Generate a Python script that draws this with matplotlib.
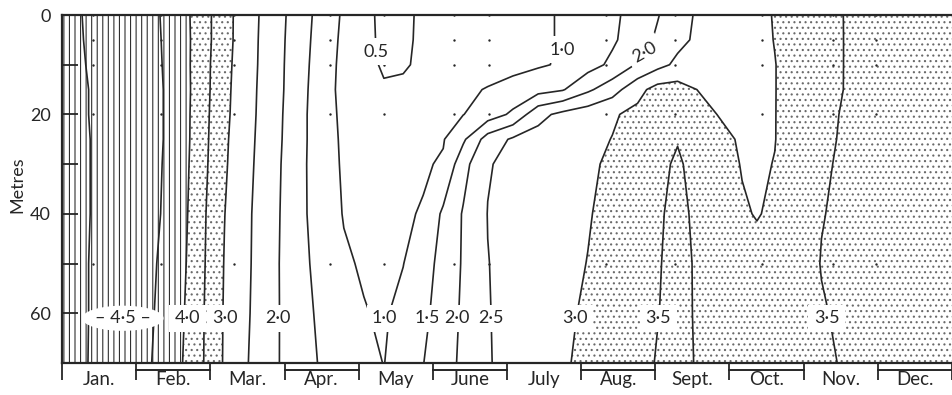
import matplotlib.pyplot as plt
import numpy as np
from matplotlib.transforms import blended_transform_factory

plt.rcParams['font.family'] = ['Lato', 'DejaVu Sans']
plt.rcParams['hatch.linewidth'] = 0.8

INK = '#262626'

# temperature section: time in months from 1 Jan, depth in metres
months = [0.00, 0.17, 0.44, 0.85, 1.18, 1.52, 1.85, 2.19, 2.52, 2.86,
          3.19, 3.53, 3.80, 4.07, 4.34, 4.60, 4.87, 5.14, 5.41, 5.74,
          6.08, 6.42, 6.75, 7.09, 7.42, 7.76, 8.03, 8.30, 8.56, 8.83,
          9.17, 9.37, 9.61, 9.91, 10.24, 10.58, 10.98, 11.52, 12.05]
depths = [0, 5, 10, 15, 20, 25, 30, 40, 50, 60, 70]

t_0m = [4.35, 4.47, 4.55, 4.61, 4.62, 4.33, 3.80, 3.18, 2.68, 2.23,
        1.76, 1.28, 0.93, 0.64, 0.38, 0.44, 0.55, 0.62, 0.69, 0.77,
        0.86, 0.94, 1.03, 1.23, 1.41, 1.68, 1.97, 2.30, 2.55, 2.67,
        2.82, 2.91, 3.02, 3.18, 3.37, 3.52, 3.59, 3.70, 3.80]
t_5m = [4.35, 4.46, 4.55, 4.61, 4.62, 4.36, 3.80, 3.18, 2.67, 2.21,
        1.74, 1.24, 0.90, 0.64, 0.40, 0.45, 0.55, 0.62, 0.69, 0.77,
        0.86, 0.94, 1.03, 1.25, 1.43, 1.76, 2.08, 2.38, 2.57, 2.68,
        2.82, 2.90, 3.01, 3.17, 3.36, 3.52, 3.59, 3.70, 3.80]
t_10m = [4.35, 4.45, 4.54, 4.61, 4.62, 4.38, 3.78, 3.15, 2.66, 2.20,
         1.72, 1.20, 0.88, 0.66, 0.44, 0.46, 0.57, 0.63, 0.70, 0.78,
         0.86, 0.95, 1.05, 1.31, 1.60, 2.05, 2.35, 2.60, 2.64, 2.73,
         2.84, 2.91, 2.99, 3.16, 3.36, 3.52, 3.59, 3.70, 3.80]
t_15m = [4.35, 4.43, 4.53, 4.62, 4.62, 4.40, 3.78, 3.13, 2.64, 2.19,
         1.71, 1.15, 0.89, 0.74, 0.55, 0.57, 0.70, 0.80, 0.90, 1.03,
         1.17, 1.32, 1.46, 1.91, 2.29, 2.85, 3.18, 3.20, 3.00, 2.94,
         2.88, 2.93, 2.99, 3.16, 3.37, 3.52, 3.60, 3.70, 3.80]
t_20m = [4.35, 4.43, 4.53, 4.62, 4.62, 4.40, 3.76, 3.11, 2.63, 2.17,
         1.69, 1.13, 0.93, 0.84, 0.73, 0.77, 0.85, 0.92, 0.99, 1.25,
         1.59, 2.35, 2.63, 2.79, 2.95, 3.12, 3.26, 3.40, 3.22, 3.00,
         2.92, 2.93, 2.99, 3.18, 3.41, 3.54, 3.61, 3.71, 3.80]
t_25m = [4.35, 4.43, 4.52, 4.62, 4.62, 4.40, 3.75, 3.08, 2.61, 2.15,
         1.69, 1.13, 0.95, 0.88, 0.81, 0.85, 0.91, 0.97, 1.42, 2.22,
         2.57, 2.68, 2.78, 2.89, 3.01, 3.18, 3.33, 3.48, 3.30, 3.10,
         2.96, 2.94, 2.99, 3.20, 3.44, 3.54, 3.61, 3.71, 3.80]
t_30m = [4.35, 4.43, 4.52, 4.62, 4.62, 4.38, 3.73, 3.06, 2.59, 2.13,
         1.67, 1.14, 0.96, 0.91, 0.86, 0.89, 0.95, 1.05, 1.83, 2.47,
         2.61, 2.71, 2.82, 2.93, 3.07, 3.26, 3.41, 3.55, 3.38, 3.18,
         2.98, 2.95, 3.01, 3.22, 3.46, 3.55, 3.62, 3.71, 3.80]
t_40m = [4.35, 4.43, 4.52, 4.62, 4.61, 4.36, 3.68, 3.01, 2.55, 2.11,
         1.65, 1.20, 0.98, 0.94, 0.90, 0.95, 1.03, 1.59, 2.04, 2.51,
         2.62, 2.74, 2.85, 2.97, 3.13, 3.31, 3.45, 3.60, 3.43, 3.26,
         3.04, 2.98, 3.06, 3.26, 3.49, 3.55, 3.62, 3.71, 3.80]
t_50m = [4.35, 4.43, 4.53, 4.62, 4.58, 4.30, 3.66, 2.98, 2.54, 2.09,
         1.66, 1.30, 1.05, 0.96, 0.95, 0.99, 1.30, 1.66, 2.05, 2.49,
         2.63, 2.76, 2.88, 3.01, 3.18, 3.34, 3.47, 3.62, 3.46, 3.35,
         3.21, 3.12, 3.23, 3.36, 3.51, 3.56, 3.63, 3.71, 3.80]
t_60m = [4.35, 4.43, 4.53, 4.59, 4.56, 4.24, 3.63, 2.96, 2.52, 2.09,
         1.68, 1.38, 1.20, 1.02, 0.95, 1.13, 1.39, 1.72, 2.08, 2.48,
         2.63, 2.78, 2.92, 3.06, 3.21, 3.37, 3.49, 3.60, 3.47, 3.36,
         3.23, 3.15, 3.24, 3.36, 3.48, 3.55, 3.62, 3.71, 3.80]
t_70m = [4.35, 4.44, 4.53, 4.56, 4.53, 4.18, 3.62, 2.95, 2.49, 2.08,
         1.71, 1.43, 1.28, 1.14, 0.99, 1.22, 1.49, 1.80, 2.10, 2.47,
         2.64, 2.80, 2.95, 3.10, 3.25, 3.40, 3.52, 3.60, 3.48, 3.37,
         3.23, 3.15, 3.23, 3.33, 3.45, 3.53, 3.60, 3.70, 3.80]

temp = np.array([t_0m, t_5m, t_10m, t_15m, t_20m, t_25m, t_30m,
                 t_40m, t_50m, t_60m, t_70m])

levels = [0.5, 1.0, 1.5, 2.0, 2.5, 3.0, 3.5, 4.0, 4.5]

# sampling stations (dots)
station_months = [0.42, 1.34, 2.32, 3.62, 4.34, 5.29, 5.76, 7.33, 8.26,
                  9.44, 10.40, 10.98]
station_depths = [0, 5, 10, 20, 50, 70]

month_names = ['Jan.', 'Feb.', 'Mar.', 'Apr.', 'May', 'June', 'July',
               'Aug.', 'Sept.', 'Oct.', 'Nov.', 'Dec.']

# isotherm labels: (month, depth, text, rotation)
iso_labels = [
    (4.23, 7.4, '0.5', 0), (6.74, 7.0, '1·0', 0), (7.86, 7.6, '2·0', 30),
    (1.69, 61, '4·0', 0), (2.20, 61, '3·0', 0), (2.91, 61, '2·0', 0),
    (4.35, 61, '1·0', 0), (4.92, 61, '1·5', 0), (5.32, 61, '2·0', 0),
    (5.79, 61, '2·5', 0), (6.91, 61, '3·0', 0), (8.04, 61, '3·5', 0),
    (10.31, 61, '3·5', 0),
]

fig = plt.figure(figsize=(9.52, 3.95), dpi=100)
ax = fig.add_axes([62 / 952, 32 / 395, 890 / 952, 348 / 395])

X, Y = np.meshgrid(months, depths)

plt.rcParams['hatch.color'] = '#6a6a6a'
ax.contourf(X, Y, temp, levels=[3.0, 4.0], colors='none', hatches=['...'])
plt.rcParams['hatch.color'] = '#303030'
ax.contourf(X, Y, temp, levels=[4.0, 5.0], colors='none', hatches=['|||'])

ax.contour(X, Y, temp, levels=levels, colors=INK, linewidths=1.2)

sx, sy = np.meshgrid(station_months, station_depths)
ax.scatter(sx.ravel(), sy.ravel(), s=3, color=INK, zorder=4, linewidths=0)

box = dict(boxstyle='square,pad=0.3', fc='white', ec='none')
for mx, dy, txt, rot in iso_labels:
    ax.text(mx, dy, txt, ha='center', va='center', fontsize=13,
            rotation=rot, color=INK, bbox=box, zorder=5)
ax.text(0.82, 61, '– 4·5 –', ha='center', va='center', fontsize=13,
        color=INK, zorder=5,
        bbox=dict(boxstyle='ellipse,pad=0.05', fc='white', ec='none'))

ax.set_xlim(0, 890 / 74.5)
ax.set_ylim(70, 0)

ax.set_xticks([i + 0.5 for i in range(12)])
ax.set_xticklabels(month_names, fontsize=13.5, color=INK)
ax.set_xticks(range(13), minor=True)
ax.tick_params(axis='x', which='major', length=0, pad=6)
ax.tick_params(axis='x', which='minor', direction='out', length=12.5,
               width=1.3, color=INK)

ax.set_yticks(range(0, 71, 10))
ax.set_yticklabels(['0', '', '20', '', '40', '', '60', ''], fontsize=13,
                   color=INK)
ax.tick_params(axis='y', direction='in', length=11.5, width=1.3,
               color=INK, pad=8)

for side in ['top', 'left', 'bottom']:
    ax.spines[side].set_linewidth(1.6)
    ax.spines[side].set_color(INK)
ax.spines['right'].set_visible(False)

# bracket lines under alternate months
trans = blended_transform_factory(ax.transData, ax.transAxes)
for i in range(1, 12, 2):
    ax.plot([i, i + 1], [-7 / 348, -7 / 348], transform=trans,
            clip_on=False, color=INK, lw=1.4)

fig.text(17 / 952, 1 - 185 / 395, 'Metres', rotation=90, ha='center',
         va='center', fontsize=13, color=INK)

fig.savefig('out.png', dpi=100)
